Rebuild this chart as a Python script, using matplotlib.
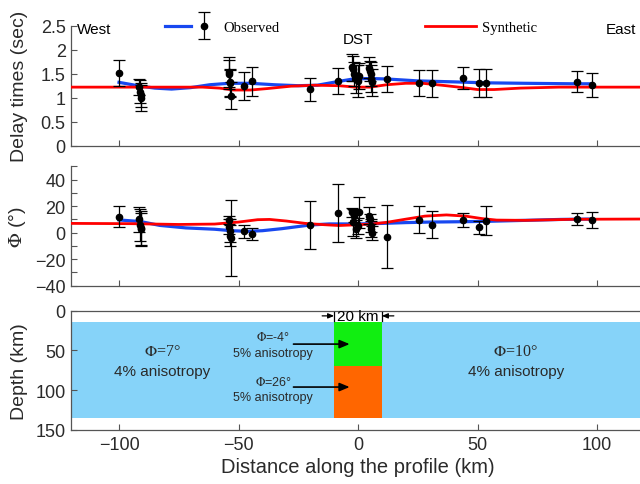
import numpy as np
import matplotlib
matplotlib.use("Agg")
import matplotlib.pyplot as plt
from matplotlib.container import ErrorbarContainer
from matplotlib.legend_handler import HandlerTuple, HandlerErrorbar
from matplotlib.ticker import MultipleLocator, FormatStrFormatter

plt.rcParams['font.family'] = ['Liberation Sans', 'DejaVu Sans']
plt.rcParams['mathtext.fontset'] = 'stix'
plt.rcParams['axes.unicode_minus'] = True

# ---- station measurements -------------------------------------------------
station_x = [-100.0,
             -91.6, -91.2, -90.9, -90.6,
             -54.0, -53.8, -53.6, -53.4, -53.2,
             -47.7, -44.5, -20.0, -8.2,
             -2.6, -2.2, -1.6, -1.0, 0.0, 0.5,
             4.6, 5.0, 5.3, 5.6, 6.0,
             12.0, 25.5, 31.0, 43.8, 50.8, 53.6, 91.8, 97.8]

delay_obs = [1.51,
             1.22, 1.12, 1.05, 1.00,
             1.53, 1.49, 1.32, 1.30, 1.04,
             1.25, 1.34, 1.18, 1.34,
             1.63, 1.60, 1.49, 1.39, 1.35, 1.45,
             1.62, 1.56, 1.49, 1.40, 1.32,
             1.39, 1.31, 1.30, 1.41, 1.30, 1.30, 1.33, 1.27]

delay_err = [0.27,
             0.17, 0.24, 0.25, 0.27,
             0.31, 0.30, 0.28, 0.28, 0.28,
             0.29, 0.30, 0.24, 0.27,
             0.28, 0.26, 0.25, 0.30, 0.34, 0.27,
             0.22, 0.21, 0.25, 0.29, 0.28,
             0.28, 0.27, 0.28, 0.23, 0.29, 0.29, 0.22, 0.25]

phi_obs = [12.0,
           10.0, 6.0, 3.5, 2.5,
           9.6, 4.5, 1.5, -2.3, -4.0,
           1.0, -1.0, 6.0, 15.0,
           15.4, 7.8, 12.8, 2.8, 5.3, 15.4,
           12.8, 10.3, 5.3, 2.8, -0.2,
           -3.0, 9.6, 6.0, 9.6, 4.1, 9.1, 10.3, 9.8]

phi_err = [8.0,
           9.6, 12.0, 12.6, 12.3,
           3.2, 5.8, 8.8, 8.0, 28.7,
           4.8, 4.2, 18.0, 21.8,
           3.5, 10.0, 4.5, 7.0, 6.0, 11.8,
           6.4, 4.0, 5.0, 6.0, 5.3,
           23.8, 10.2, 10.0, 5.0, 5.0, 11.0, 4.8, 6.0]

# ---- smoothed observed curves and synthetic predictions ------------------
obs_delay_x = [-100, -91, -85, -78, -70, -62, -54, -45, -35, -25, -17, -8, -2,
               5, 12, 25, 40, 53, 70, 90, 98]
obs_delay_y = [1.32, 1.24, 1.20, 1.18, 1.21, 1.27, 1.30, 1.30, 1.27, 1.25, 1.26,
               1.34, 1.39, 1.40, 1.39, 1.35, 1.33, 1.31, 1.30, 1.29, 1.29]

syn_delay_x = [-120, -65, -58, -52, -45, -38, -28, -18, -8, -1, 5, 12, 20, 27,
               35, 44, 50, 57, 68, 84, 120]
syn_delay_y = [1.22, 1.22, 1.20, 1.16, 1.16, 1.19, 1.24, 1.26, 1.25, 1.22, 1.22,
               1.27, 1.30, 1.30, 1.26, 1.21, 1.17, 1.17, 1.20, 1.22, 1.22]

obs_phi_x = [-100, -91, -83, -72, -60, -53, -46, -40, -32, -20, -12, 0, 10, 20,
             30, 45, 55, 70, 85, 98]
obs_phi_y = [9.6, 8.4, 5.5, 3.6, 2.6, 1.5, 1.0, 1.5, 3.0, 5.8, 6.6, 6.6, 7.0,
             7.6, 8.0, 8.3, 8.6, 9.3, 10.0, 10.3]

syn_phi_x = [-120, -95, -75, -60, -50, -42, -37, -30, -22, -14, -8, 0, 6, 12,
             20, 28, 37, 45, 52, 58, 70, 90, 120]
syn_phi_y = [7.0, 6.8, 6.2, 6.5, 8.0, 9.8, 10.0, 8.8, 7.0, 6.0, 5.4, 6.0, 6.6,
             7.8, 10.2, 12.5, 13.4, 12.5, 10.6, 9.5, 9.3, 10.1, 10.3]

# ---- model cross-section -------------------------------------------------
crust_top, layer_split, model_bottom = 14, 70, 135
dst_west, dst_east = -10, 10
xmin, xmax = -120, 120

c_blue = '#1848F0'
c_red = '#FF0000'
c_text = '#2a2a2a'
c_spine = '#555555'

fig = plt.figure(figsize=(6.4, 4.85), dpi=100)
L, W = 71.2 / 640, 573.6 / 640
ax1 = fig.add_axes([L, 1 - 146.7 / 485, W, 120.0 / 485])
ax2 = fig.add_axes([L, 1 - 286.7 / 485, W, 119.3 / 485])
ax3 = fig.add_axes([L, 1 - 431.0 / 485, W, 119.3 / 485])

for ax in (ax1, ax2, ax3):
    ax.set_xlim(xmin, xmax)
    ax.xaxis.set_major_locator(MultipleLocator(50))
    ax.tick_params(direction='in', length=4, width=0.8, color=c_spine,
                   labelsize=13, labelcolor=c_text, pad=4)
    for s in ax.spines.values():
        s.set_color(c_spine)
        s.set_linewidth(0.9)
for ax in (ax1, ax2):
    ax.spines['top'].set_visible(False)
    ax.spines['right'].set_visible(False)
    ax.tick_params(axis='x', labelbottom=False)

# ---- delay times ---------------------------------------------------------
ax1.set_ylim(0, 2.5)
ax1.yaxis.set_major_locator(MultipleLocator(0.5))
ax1.yaxis.set_major_formatter(FormatStrFormatter('%g'))
blue_line, = ax1.plot(obs_delay_x, obs_delay_y, color=c_blue, lw=2.3, zorder=2)
red_line, = ax1.plot(syn_delay_x, syn_delay_y, color=c_red, lw=2.0, zorder=3)
eb = ax1.errorbar(station_x, delay_obs, yerr=delay_err, fmt='o', color='k',
                  ms=4.5, elinewidth=0.9, capsize=4, capthick=0.9, zorder=4)
ax1.set_ylabel('Delay times (sec)', fontsize=14, color=c_text)
ax1.text(-117.5, 2.43, 'West', fontsize=11, color='k', va='center', ha='left')
ax1.text(0, 2.22, 'DST', fontsize=11, color='k', va='center', ha='center')
ax1.text(110, 2.43, 'East', fontsize=11, color='k', va='center', ha='center',
         clip_on=False)

fig.legend([(blue_line, eb), red_line], ['Observed', 'Synthetic'],
           handler_map={tuple: HandlerTuple(ndivide=None),
                        ErrorbarContainer: HandlerErrorbar(yerr_size=0.95)},
           ncol=2, frameon=False, loc='center',
           bbox_to_anchor=(0.549, 0.942),
           prop={'family': 'Liberation Serif', 'size': 10.5},
           handlelength=3.5, handletextpad=0.45, columnspacing=10.0,
           borderpad=0, borderaxespad=0)

# ---- fast polarization direction ----------------------------------------
ax2.set_ylim(-40, 50)
ax2.yaxis.set_major_locator(MultipleLocator(20))
ax2.yaxis.set_minor_locator(MultipleLocator(10))
ax2.tick_params(which='minor', direction='in', length=4, width=0.8, color=c_spine)
ax2.plot(obs_phi_x, obs_phi_y, color=c_blue, lw=2.3, zorder=2)
ax2.plot(syn_phi_x, syn_phi_y, color=c_red, lw=2.0, zorder=3)
ax2.errorbar(station_x, phi_obs, yerr=phi_err, fmt='o', color='k',
             ms=4.5, elinewidth=0.9, capsize=4, capthick=0.9, zorder=4)
ax2.set_ylabel(r'$\Phi$ (°)', fontsize=14, color=c_text)

# ---- anisotropy model ----------------------------------------------------
ax3.set_ylim(150, 0)
ax3.yaxis.set_major_locator(MultipleLocator(50))
ax3.axhspan(crust_top, model_bottom, color='#86D3F9', lw=0, zorder=1)
ax3.fill_between([dst_west, dst_east], crust_top, layer_split,
                 color='#11EE11', lw=0, zorder=2)
ax3.fill_between([dst_west, dst_east], layer_split, model_bottom,
                 color='#FF6600', lw=0, zorder=2)

ax3.text(-82, 50.5, r'$\Phi$=7°', fontsize=11.5, ha='center', va='center',
         color=c_text, family='Liberation Serif')
ax3.text(-82, 75.5, '4% anisotropy', fontsize=11, ha='center', va='center',
         color=c_text)
ax3.text(66, 50.5, r'$\Phi$=10°', fontsize=11.5, ha='center', va='center',
         color=c_text, family='Liberation Serif')
ax3.text(66, 75.5, '4% anisotropy', fontsize=11, ha='center', va='center',
         color=c_text)

ax3.text(-35.5, 32, r'$\Phi$=-4°', fontsize=9, ha='center', va='center',
         color=c_text)
ax3.text(-35.5, 53.5, '5% anisotropy', fontsize=9, ha='center', va='center',
         color=c_text)
ax3.text(-35.5, 89, r'$\Phi$=26°', fontsize=9, ha='center', va='center',
         color=c_text)
ax3.text(-35.5, 109, '5% anisotropy', fontsize=9, ha='center', va='center',
         color=c_text)
arrow_kw = dict(arrowstyle='-|>,head_length=0.6,head_width=0.25', color='k',
                lw=1.2, shrinkA=0, shrinkB=0)
ax3.annotate('', xy=(-3.5, 42), xytext=(-27, 42), arrowprops=arrow_kw, zorder=5)
ax3.annotate('', xy=(-3.5, 96), xytext=(-27, 96), arrowprops=arrow_kw, zorder=5)

# width marker of the fault zone
ax3.text(0, 6.3, '20 km', fontsize=11, ha='center', va='center', color='k',
         zorder=6)
for xe in (dst_west, dst_east):
    ax3.plot([xe, xe], [2, 12.5], color='k', lw=0.9, zorder=6)
small_arrow = dict(arrowstyle='-|>,head_length=0.35,head_width=0.15', color='k',
                   lw=0.9, shrinkA=0, shrinkB=0)
ax3.annotate('', xy=(dst_west, 6.5), xytext=(dst_west - 5, 6.5),
             arrowprops=small_arrow, zorder=6)
ax3.annotate('', xy=(dst_east, 6.5), xytext=(dst_east + 5, 6.5),
             arrowprops=small_arrow, zorder=6)

ax3.set_ylabel('Depth (km)', fontsize=14, color=c_text)
ax3.set_xlabel('Distance along the profile (km)', fontsize=14.5, color=c_text,
               labelpad=3)

for ax in (ax1, ax2, ax3):
    ax.yaxis.set_label_coords(-0.076, 0.5)

fig.savefig('out.png', dpi=100)
